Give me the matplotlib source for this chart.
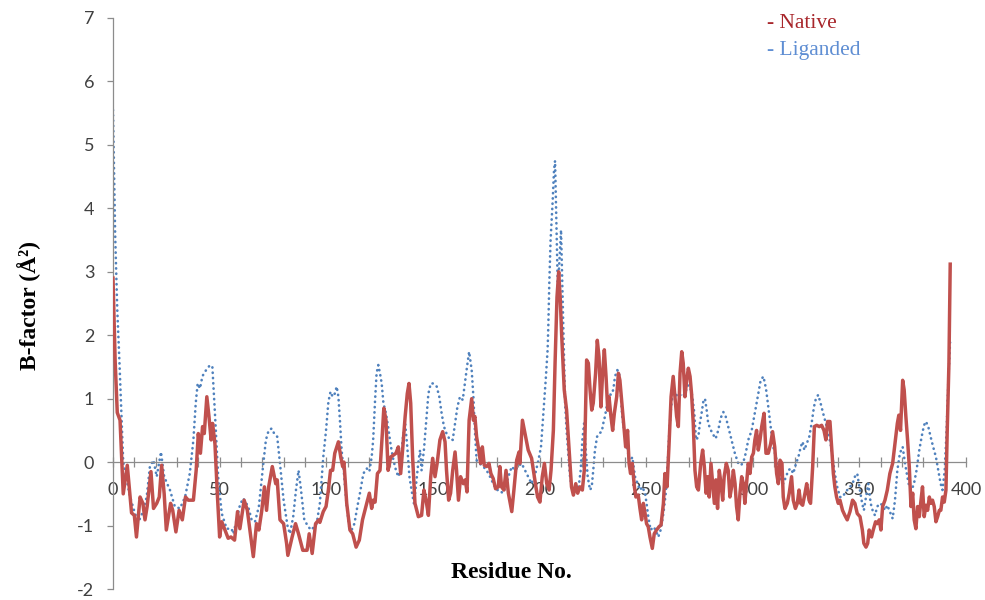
import numpy as np
import matplotlib
import matplotlib.pyplot as plt
from matplotlib.ticker import MultipleLocator, FuncFormatter

matplotlib.use('Agg')

# (residue, B-factor)
native = [
    (0, 2.9), (1, 1.6), (2, 0.78), (3.3, 0.66), (4.8, -0.5), (6.7, -0.05), (8.7, -0.8),
    (10, -0.84), (11, -1.18), (12.7, -0.55), (14, -0.65), (15, -0.91), (16, -0.7),
    (17.8, -0.15), (19, -0.73), (20.5, -0.65), (21.7, -0.55), (22.8, -0.05), (24, -0.5),
    (25, -1.07), (26, -0.86), (27, -0.65), (28, -0.76), (29.5, -1.1), (31, -0.76),
    (32.5, -0.91), (34, -0.55), (35.3, -0.6), (37.7, -0.6), (39, -0.13), (40, 0.45),
    (41, 0.14), (42, 0.56), (42.8, 0.45), (44, 1.03), (45, 0.72), (46, 0.35), (46.7, 0.61),
    (47.8, 0.29), (49, -0.55), (50, -1.18), (51, -0.94), (52.5, -1.07), (54, -1.2),
    (55.3, -1.18), (57, -1.23), (58.4, -0.78), (59.5, -1.05), (61.5, -0.6), (63, -0.76),
    (64.4, -1.13), (65.8, -1.49), (67.3, -0.97), (68.4, -1.07), (69.7, -0.78), (71, -0.39),
    (72, -0.76), (73, -0.39), (74.7, -0.07), (76.3, -0.34), (77, -0.28), (78.3, -0.91),
    (80, -0.97), (81.4, -1.28), (82, -1.47), (84, -1.18), (85.6, -0.97), (87, -1.13),
    (89, -1.39), (91, -1.39), (92, -1.13), (93.4, -1.44), (95, -0.97), (96.5, -0.91),
    (97, -0.95), (98.6, -0.78), (99.9, -0.7), (101, -0.44), (102, -0.13), (103, -0.13),
    (104, 0.14), (105.7, 0.32), (106.8, 0.08), (107.7, -0.07), (108.3, 0.0), (109.6, -0.65),
    (111.1, -1.07), (112.4, -1.13), (114, -1.34), (115.5, -1.23), (117, -0.91),
    (118.6, -0.7), (120.2, -0.49), (121.3, -0.73), (122, -0.6), (122.9, -0.63), (124, -0.18),
    (125.2, -0.13), (126.3, 0.45), (127, 0.85), (128, 0.66), (129, -0.13), (130.2, 0.08),
    (131.5, 0.11), (132.7, 0.14), (133.8, 0.24), (134.9, -0.18), (135.8, 0.19), (137, 0.72),
    (138, 1.08), (138.8, 1.24), (139.6, 0.93), (140.5, 0.08), (141.6, -0.65), (143.2, -0.86),
    (144.7, -0.84), (145.8, -0.44), (146.8, -0.6), (147.9, -0.84), (149, -0.23),
    (149.9, 0.06), (151, -0.23), (152, -0.02), (153.3, 0.35), (154.6, 0.48), (155.7, 0.32),
    (156.4, -0.13), (157.4, -0.6), (158.3, -0.49), (159.3, -0.13), (160.4, 0.16),
    (161.1, -0.13), (162, -0.6), (163, -0.23), (164.3, -0.34), (165.2, -0.28), (166, -0.47),
    (167, 0.66), (168.2, 1.0), (169, 0.66), (169.7, 0.72), (170.5, 0.4), (171.5, 0.19),
    (172.4, -0.02), (173.2, 0.24), (174.1, -0.05), (175.2, -0.07), (176.3, -0.02),
    (177.2, -0.18), (178.3, -0.26), (179.4, -0.42), (180.7, -0.39), (181.4, -0.07),
    (182.2, -0.39), (183.3, -0.44), (184.3, -0.13), (185.4, -0.49), (187, -0.78),
    (188, -0.44), (189.3, 0.03), (190.4, 0.16), (190.8, -0.02), (192, 0.66), (193.2, 0.45),
    (194.7, 0.19), (196.3, 0.06), (197.9, -0.3), (199.1, -0.55), (200.2, -0.63),
    (201.3, -0.23), (202.3, -0.02), (203.4, -0.34), (204.5, -0.44), (205.4, -0.13),
    (206.5, 0.5), (207.3, 1.56), (208.2, 2.6), (209, 3.0), (209.7, 2.6), (210.4, 2.0),
    (211.6, 1.14), (212.7, 0.82), (213.8, 0.24), (215, -0.39), (215.9, -0.52), (217, -0.34),
    (217.9, -0.49), (219, -0.39), (220.1, -0.44), (221, -0.13), (222.1, 1.61), (222.9, 1.56),
    (223.7, 1.14), (224.5, 0.82), (225.2, 0.93), (226.3, 1.4), (227.1, 1.92), (227.9, 1.66),
    (228.8, 0.87), (229.6, 1.4), (230.4, 1.77), (231.2, 1.35), (232, 0.82), (232.6, 1.03),
    (233.5, 0.72), (234.3, 0.5), (235.1, 0.77), (236.2, 1.03), (237, 1.4), (237.7, 1.29),
    (238.8, 0.87), (239.8, 0.5), (240.4, 0.24), (241.3, 0.5), (242, -0.02), (242.7, -0.18),
    (243.5, -0.02), (244.5, -0.39), (245.2, -0.55), (246.3, -0.52), (247.1, -0.73),
    (247.9, -0.91), (248.7, -0.65), (249.5, -0.81), (250.2, -0.97), (251, -1.02),
    (251.8, -1.18), (252.9, -1.36), (253.8, -1.13), (254.9, -1.07), (256, -1.02),
    (257, -0.99), (258.1, -0.65), (258.8, -0.18), (259.8, -0.39), (260.7, 0.24),
    (261.7, 1.03), (262.7, 1.35), (263.5, 1.03), (264.3, 0.72), (265.1, 0.56), (265.9, 1.4),
    (266.7, 1.74), (267.4, 1.56), (268.2, 1.03), (269, 1.29), (269.8, 1.48), (270.6, 1.35),
    (271.3, 1.08), (272.1, 0.61), (272.9, -0.13), (273.7, -0.39), (274.5, -0.44),
    (275.6, -0.02), (276.5, 0.19), (277.3, -0.07), (278.1, -0.49), (278.8, -0.23),
    (279.6, -0.55), (280.4, -0.02), (281.2, -0.34), (282, -0.65), (282.7, -0.28),
    (283.5, -0.73), (284.3, -0.13), (285.1, -0.34), (285.9, -0.6), (286.6, -0.23),
    (287.6, -0.02), (288.5, -0.13), (289.3, -0.55), (290.1, -0.39), (290.9, -0.13),
    (291.7, -0.34), (292.4, -0.7), (293.2, -0.91), (294, -0.49), (294.8, -0.23),
    (295.6, -0.34), (296.3, -0.65), (297.1, -0.34), (297.9, -0.02), (298.7, -0.18),
    (299.5, 0.08), (300.3, 0.14), (301, 0.35), (301.8, 0.5), (302.6, 0.19), (303.4, 0.35),
    (304.2, 0.56), (305.3, 0.77), (306.2, 0.14), (307.3, 0.14), (308.4, 0.29), (309.3, 0.48),
    (310.3, 0.24), (311.2, -0.18), (312, -0.34), (312.8, 0.03), (313.7, -0.02),
    (314.3, -0.55), (315.1, -0.73), (316.2, -0.65), (317.1, -0.49), (318.2, -0.23),
    (319, -0.6), (320, -0.73), (320.9, -0.65), (321.7, -0.44), (322.5, -0.65), (323.4, -0.68),
    (324.5, -0.49), (325.3, -0.34), (326.4, -0.6), (327.1, -0.65), (328.1, -0.07),
    (328.9, 0.56), (330, 0.58), (331.2, 0.56), (332.3, 0.58), (333.4, 0.5), (334.3, 0.35),
    (335.1, 0.64), (336.2, 0.64), (337, 0.24), (337.8, -0.18), (338.5, -0.39),
    (339.3, -0.55), (340.1, -0.65), (340.9, -0.6), (342.1, -0.76), (343.2, -0.84),
    (344.3, -0.91), (345.6, -0.78), (346.8, -0.6), (347.9, -0.65), (349, -0.81),
    (350.3, -0.86), (351.4, -1.07), (352.1, -1.28), (353.1, -1.34), (353.9, -1.28),
    (354.6, -1.07), (355.7, -1.18), (356.5, -1.07), (357.6, -0.94), (358.4, -0.97),
    (359.3, -0.91), (360.1, -1.07), (360.9, -0.7), (362, -0.6), (363.1, -0.44),
    (364.3, -0.18), (365.6, -0.02), (366.7, 0.29), (367.8, 0.61), (368.5, 0.74),
    (369.3, 0.5), (370.3, 1.29), (371, 1.14), (371.8, 0.72), (372.6, 0.35), (373.4, -0.07),
    (374.2, -0.7), (375, -0.49), (375.7, -0.91), (376.5, -1.05), (377.3, -0.7),
    (378.1, -0.86), (378.9, -0.6), (379.6, -0.39), (380.4, -0.86), (381.2, -0.68),
    (382, -0.76), (382.8, -0.55), (383.5, -0.65), (384.3, -0.6), (385.1, -0.7),
    (385.9, -0.94), (386.7, -0.86), (387.5, -0.76), (388.2, -0.76), (389, -0.55),
    (389.8, -0.63), (390.6, -0.44), (391.2, 0.5), (392, 1.56), (392.6, 3.12),
]

liganded = [
    (0, 5.55), (1, 3.6), (2, 2.4), (3, 1.6), (4, 0.7), (4.8, 0.0), (5.6, -0.13), (8, -0.55),
    (10.3, -0.81), (11.9, -0.94), (13.4, -0.84), (15.8, -0.55), (17.3, -0.07), (19, 0.03),
    (20.5, -0.23), (21.6, -0.02), (22.5, 0.16), (24, -0.23), (26.7, -0.44), (29, -0.7),
    (31.4, -0.73), (33.8, -0.55), (36, -0.18), (37.7, 0.35), (38.8, 0.93), (39.7, 1.24),
    (40.8, 1.16), (41.9, 1.35), (43, 1.42), (45.5, 1.53), (46.6, 1.5), (47.8, 0.77),
    (49.4, -0.28), (51, -0.81), (53.3, -1.05), (55.6, -1.05), (56.4, -1.13), (58, -0.91),
    (59.5, -0.68), (61, -0.57), (63.4, -0.7), (65, -0.91), (66.6, -0.94), (68.4, -0.7),
    (70.5, -0.02), (71.7, 0.35), (73, 0.5), (74.4, 0.53), (75.6, 0.45), (77, 0.4),
    (78.3, -0.02), (80, -0.6), (81.9, -1.02), (83, -1.13), (84.5, -0.86), (85.8, -0.44),
    (87, -0.13), (88, -0.39), (89.7, -0.91), (91.6, -1.02), (93, -1.07), (95.5, -0.97),
    (97, -0.65), (98.6, 0.08), (99.9, 0.5), (101, 0.95), (102, 1.11), (103, 1.03),
    (104, 1.08), (104.9, 1.19), (105.7, 1.03), (106.5, 0.61), (107.2, 0.19), (108.3, -0.18),
    (109.6, -0.7), (110.8, -1.02), (111.9, -1.07), (113.2, -0.97), (114.6, -0.7),
    (115.8, -0.49), (117.4, -0.18), (119, -0.1), (120.2, -0.15), (121.3, 0.08), (122, 0.35),
    (122.9, 0.98), (123.6, 1.4), (124.4, 1.53), (125.2, 1.4), (126, 1.24), (126.8, 0.93),
    (128, 0.77), (129, 0.56), (130.2, 0.27), (131.5, 0.03), (132.7, -0.13), (133.8, -0.23),
    (134.9, -0.13), (135.8, 0.35), (137, 0.61), (138, 0.24), (139, -0.23), (140, -0.44),
    (141.1, -0.65), (142, -0.39), (143.2, 0.0), (144, 0.19), (144.7, -0.13), (145.8, 0.19),
    (146.8, 0.61), (147.9, 1.08), (149, 1.24), (150.2, 1.24), (151.8, 1.19), (153, 1.03),
    (154.1, 0.77), (155.2, 0.56), (156.4, 0.45), (158, 0.35), (159.3, 0.35), (160.4, 0.61),
    (161.5, 0.87), (162.7, 1.03), (164, 0.98), (165, 1.24), (166, 1.5), (167, 1.74),
    (168.2, 1.45), (169, 1.03), (169.7, 0.5), (170.5, 0.03), (171.8, -0.02), (173.6, -0.07),
    (175.2, -0.13), (176.8, -0.23), (178.3, -0.34), (179.9, -0.44), (181.4, -0.44),
    (182.7, -0.49), (183.8, -0.42), (185.4, -0.23), (187, -0.07), (188.5, -0.13),
    (190, -0.07), (191.6, -0.02), (193.2, -0.13), (194.7, -0.23), (196.3, -0.34),
    (197.9, -0.2), (199.5, 0.03), (200.7, 0.24), (201.8, 0.77), (202.9, 1.29), (203.8, 1.77),
    (204.1, 2.1), (204.6, 2.83), (205.2, 3.5), (206.2, 4.13), (206.8, 4.6), (207.3, 4.75),
    (208.6, 2.7), (210.1, 3.66), (211.2, 2.08), (212, 0.93), (212.7, 0.5), (213.5, 0.14),
    (214.3, -0.23), (215.4, -0.44), (216.6, -0.49), (218.2, -0.44), (219.3, -0.13),
    (220.1, 0.35), (220.9, 0.61), (221.7, 0.19), (222.6, -0.23), (223.7, -0.44),
    (224.5, -0.39), (225.2, -0.13), (226, 0.19), (227, 0.4), (227.9, 0.45), (229.2, 0.48),
    (229.9, 0.61), (230.7, 0.72), (231.5, 0.87), (232.6, 1.08), (233.5, 1.06), (234.6, 1.14),
    (235.4, 1.35), (236.5, 1.45), (237.3, 1.42), (238.1, 1.08), (238.8, 0.72), (240.1, 0.4),
    (241.3, 0.19), (242.4, -0.02), (243.5, 0.08), (244.8, -0.23), (246, -0.34),
    (247.1, -0.44), (248.2, -0.39), (249.5, -0.49), (250.2, -0.65), (251, -0.86),
    (252.1, -1.07), (253.4, -1.02), (254.5, -1.07), (255.7, -1.18), (256.8, -1.07),
    (258.1, -0.81), (259.2, -0.49), (260.1, -0.02), (260.9, 0.5), (261.7, 0.87),
    (262.7, 1.14), (263.8, 1.08), (264.8, 1.03), (265.9, 1.06), (267, 1.03), (268.2, 1.08),
    (269.5, 1.21), (270.6, 1.19), (271.7, 1.03), (272.6, 0.77), (273.4, 0.35), (274.5, 0.4),
    (275.2, 0.61), (276, 0.77), (276.8, 0.95), (277.6, 1.0), (278.4, 0.82), (279.1, 0.61),
    (280.4, 0.5), (281.5, 0.43), (282.6, 0.37), (283.8, 0.5), (284.9, 0.69), (286.2, 0.79),
    (287.3, 0.72), (288.5, 0.56), (290.1, 0.35), (291.6, 0.14), (293.2, -0.02),
    (294.5, -0.05), (295.6, 0.0), (296.7, 0.14), (297.9, 0.35), (299.5, 0.5), (301.5, 0.87),
    (302.6, 1.08), (303.7, 1.29), (305, 1.35), (306.2, 1.16), (307.3, 0.87), (308.4, 0.56),
    (309.6, 0.24), (310.9, 0.08), (312, -0.13), (313.1, -0.28), (314.3, -0.34),
    (315.6, -0.23), (316.7, -0.13), (317.8, -0.1), (319, -0.18), (320.3, -0.02),
    (321.4, 0.08), (322.5, 0.24), (323.4, 0.32), (324.2, 0.19), (325.3, 0.29), (326.5, 0.4),
    (327.6, 0.61), (328.7, 0.87), (329.6, 1.0), (330.7, 1.06), (331.8, 0.93), (333, 0.77),
    (334.3, 0.61), (335.4, 0.45), (336.5, 0.29), (337.4, 0.08), (338.5, -0.18),
    (339.6, -0.39), (340.9, -0.55), (342.1, -0.55), (343.2, -0.49), (344.3, -0.44),
    (345.6, -0.39), (346.8, -0.34), (347.9, -0.23), (349, -0.18), (350, -0.39),
    (351.3, -0.65), (352.1, -0.76), (353.1, -0.55), (354.2, -0.34), (355.3, -0.65),
    (356.2, -0.76), (357.3, -0.84), (358.4, -0.7), (359.6, -0.65), (360.9, -0.68),
    (362, -0.76), (363.1, -0.68), (364.3, -0.78), (365.6, -0.89), (366.7, -0.6),
    (367.8, -0.13), (369, 0.14), (370.3, 0.24), (371.4, -0.02), (372.5, -0.23),
    (373.4, -0.39), (374.5, -0.44), (375.6, -0.34), (376.8, -0.13), (378.1, 0.19),
    (379.2, 0.4), (380.3, 0.58), (381.2, 0.64), (382.3, 0.56), (383.4, 0.4), (384.6, 0.24),
    (385.9, 0.08), (387, -0.13), (388.1, -0.34), (389, -0.44), (390, -0.13), (390.9, 0.5),
    (391.8, 1.35), (392.6, 1.95),
]

y_ticks = list(range(-2, 8))
x_label_step = 50

AXIS_GREY = '#8c8c8c'
TEXT_GREY = '#404040'

plt.rcParams['axes.unicode_minus'] = False

fig = plt.figure(figsize=(9.85, 6), dpi=100)
ax = fig.add_axes([113 / 985, 11 / 600, 853 / 985, 571 / 600])

nx, ny = np.array(native).T
lx, ly = np.array(liganded).T

ax.plot(lx, ly, color='#4F81BD', lw=1.9, linestyle=(0, (0.1, 1.9)),
        dash_capstyle='round', zorder=2)
ax.plot(nx, ny, color='#C0504D', lw=2.5, solid_joinstyle='round', zorder=3)

ax.set_xlim(0, 400)
ax.set_ylim(-2, 7)

for s in ['top', 'right']:
    ax.spines[s].set_visible(False)
ax.spines['bottom'].set_position(('data', 0))
ax.spines['left'].set_position(('data', 0))
for s in ['bottom', 'left']:
    ax.spines[s].set_color(AXIS_GREY)
    ax.spines[s].set_linewidth(0.9)

ax.set_yticks(y_ticks)
ax.xaxis.set_major_locator(MultipleLocator(10))
ax.xaxis.set_major_formatter(
    FuncFormatter(lambda v, p: str(int(round(v))) if round(v) % x_label_step == 0 else ''))

ax.tick_params(axis='y', direction='out', length=4.5, width=0.9, color=AXIS_GREY,
               pad=9, labelsize=13, labelcolor=TEXT_GREY)
ax.tick_params(axis='x', direction='inout', length=7, width=0.9, color=AXIS_GREY,
               pad=11, labelsize=13, labelcolor=TEXT_GREY)
for lab in ax.get_xticklabels() + ax.get_yticklabels():
    lab.set_fontfamily('Lato')

serif = 'Liberation Serif'
fig.text(511 / 985, 1 - 573 / 600, 'Residue No.', ha='center', va='center',
         fontsize=17, fontweight='bold', family=serif)
fig.text(29 / 985, 1 - 305 / 600, 'B-factor (Å²)', ha='center', va='center',
         rotation=90, fontsize=17, fontweight='bold', family=serif)

fig.text(767 / 985, 1 - 24 / 600, '- Native', ha='left', va='center',
         fontsize=15.5, family=serif, color='#A8262B')
fig.text(767 / 985, 1 - 51 / 600, '- Liganded', ha='left', va='center',
         fontsize=15.5, family=serif, color='#5F8ED3')

fig.savefig('out.png', dpi=100)
